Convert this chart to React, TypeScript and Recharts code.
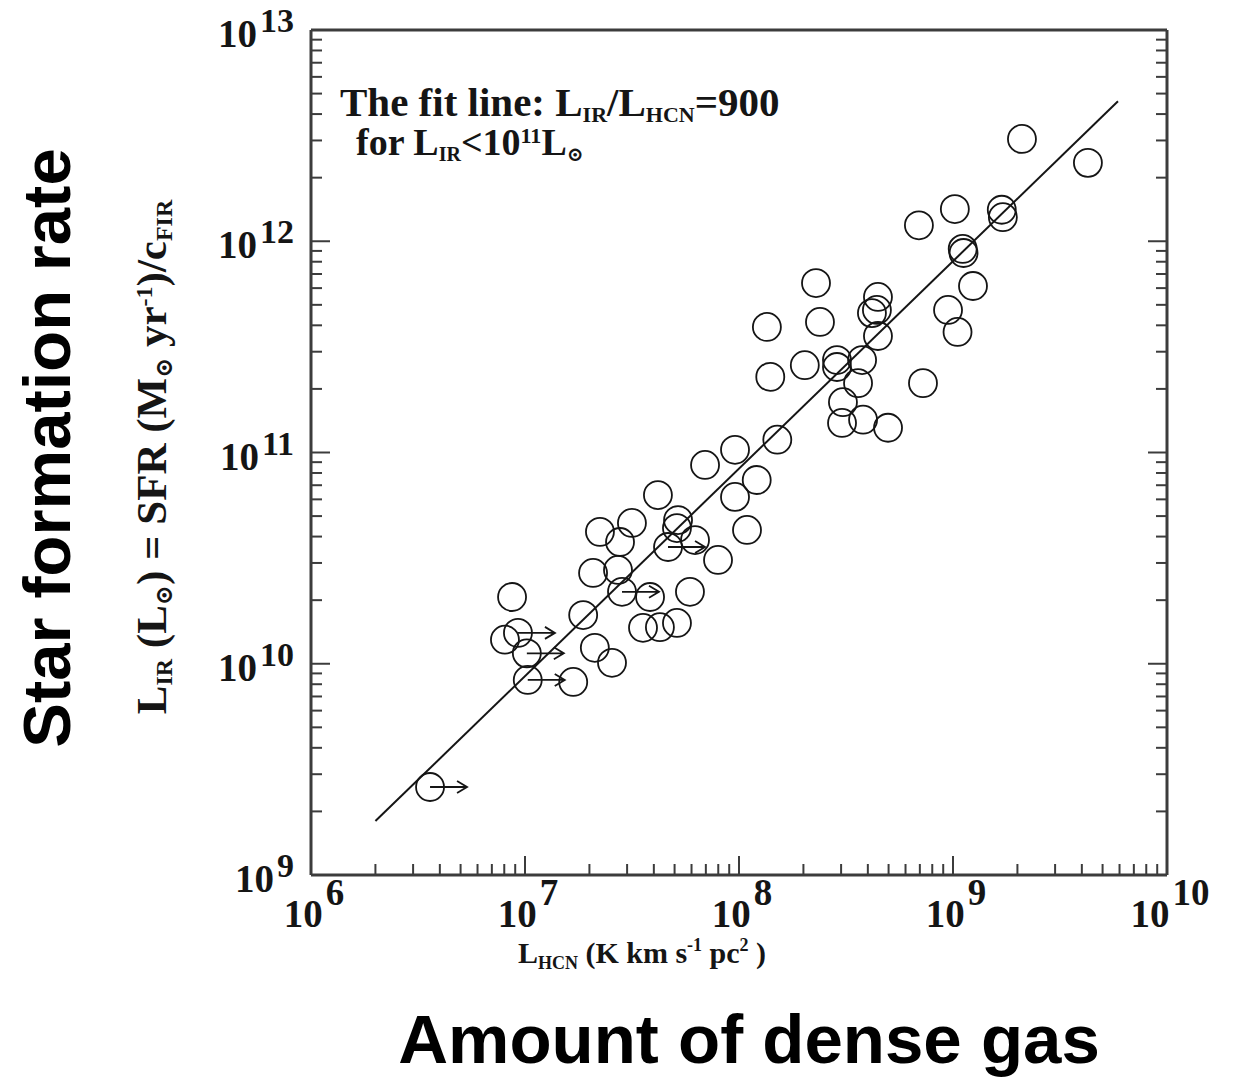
import React from 'react';
import { ScatterChart, Scatter, XAxis, YAxis, ReferenceLine } from 'recharts';

// L_HCN (K km s^-1 pc^2) for each galaxy
const lHcn = [
  2.1e9, 4.27e9, 1.69e9, 1.71e9, 1.02e9, 6.93e8, 1.11e9, 1.12e9, 1.24e9, 9.48e8,
  1.05e9, 2.29e8, 1.35e8, 2.39e8, 4.46e8, 4.41e8, 4.18e8, 4.46e8, 1.4e8, 2.03e8,
  2.87e8, 2.87e8, 3.76e8, 3.6e8, 3.06e8, 3.03e8, 3.8e8, 4.97e8, 7.24e8, 1.51e8,
  9.58e7, 6.94e7, 1.21e8, 9.58e7, 1.09e8, 4.18e7, 3.16e7, 2.24e7, 2.78e7, 5.19e7,
  5.13e7, 4.66e7, 6.23e7, 7.98e7, 2.08e7, 2.72e7, 2.84e7, 3.84e7, 5.9e7, 3.56e7,
  4.27e7, 5.13e7, 8.7e6, 1.87e7, 8.06e6, 9.27e6, 1.02e7, 1.03e7, 1.68e7, 2.12e7,
  2.55e7, 3.6e6,
];

// L_IR (L_sun) for the same galaxies
const lIr = [
  3.05e12, 2.35e12, 1.41e12, 1.3e12, 1.42e12, 1.19e12, 9.2e11, 8.8e11, 6.14e11, 4.73e11,
  3.72e11, 6.34e11, 3.93e11, 4.15e11, 5.45e11, 4.73e11, 4.57e11, 3.56e11, 2.28e11, 2.59e11,
  2.74e11, 2.54e11, 2.74e11, 2.13e11, 1.73e11, 1.38e11, 1.43e11, 1.31e11, 2.13e11, 1.15e11,
  1.03e11, 8.73e10, 7.41e10, 6.16e10, 4.3e10, 6.29e10, 4.64e10, 4.21e10, 3.77e10, 4.79e10,
  4.39e10, 3.57e10, 3.85e10, 3.1e10, 2.69e10, 2.78e10, 2.19e10, 2.07e10, 2.19e10, 1.48e10,
  1.49e10, 1.56e10, 2.07e10, 1.7e10, 1.3e10, 1.4e10, 1.12e10, 8.38e9, 8.2e9, 1.19e10,
  1.01e10, 2.61e9,
];

// points drawn with an arrow (limits on L_HCN)
const limitIdx = [41, 46, 55, 56, 57, 61];

// fit line L_IR/L_HCN ~ 900
const fitHcn = [2e6, 5.9e9];
const fitIr = [1.8e9, 4.6e12];

const xExp = [6, 7, 8, 9, 10];
const yExp = [9, 10, 11, 12, 13];
const minorMult = [2, 3, 4, 5, 6, 7, 8, 9];

const buildTicks = (exps: number[]) => {
  const out: number[] = [];
  exps.forEach((e, i) => {
    out.push(10 ** e);
    if (i < exps.length - 1) minorMult.forEach((m) => out.push(m * 10 ** e));
  });
  return out;
};
const xTicks = buildTicks(xExp);
const yTicks = buildTicks(yExp);

const points = lHcn.map((x, i) => ({ x, y: lIr[i], limit: limitIdx.includes(i) }));

const W = 1233;
const H = 1082;
const FRAME = '#3c3c3c';
const INK = '#151515';
const SERIF = '"Liberation Serif", "DejaVu Serif", serif';
const SANS = '"Liberation Sans", Arial, sans-serif';

const isMajor = (v: number) => {
  const e = Math.round(Math.log10(v));
  return Math.abs(v / 10 ** e - 1) < 1e-6;
};

const BottomTick = ({ x, y, payload }: any) => {
  const v = payload.value;
  const major = isMajor(v);
  return (
    <g>
      <line x1={x} x2={x} y1={y} y2={y - (major ? 19 : 11)} stroke={FRAME} strokeWidth={2} />
      {major && (
        <text x={x + 3} y={y + 52} textAnchor="middle" fontFamily={SERIF} fontWeight="bold" fontSize={39} fill={INK}>
          10<tspan dx={3} dy={-22} fontSize={37}>{Math.round(Math.log10(v))}</tspan>
        </text>
      )}
    </g>
  );
};

const TopTick = ({ x, y, payload }: any) => (
  <line x1={x} x2={x} y1={y} y2={y + (isMajor(payload.value) ? 19 : 11)} stroke={FRAME} strokeWidth={2} />
);

const LeftTick = ({ x, y, payload }: any) => {
  const v = payload.value;
  const major = isMajor(v);
  return (
    <g>
      <line x1={x} x2={x + (major ? 19 : 11)} y1={y} y2={y} stroke={FRAME} strokeWidth={2} />
      {major && (
        <text x={x - 17} y={y + 17} textAnchor="end" fontFamily={SERIF} fontWeight="bold" fontSize={39} fill={INK}>
          10<tspan dx={3} dy={-15} fontSize={34}>{Math.round(Math.log10(v))}</tspan>
        </text>
      )}
    </g>
  );
};

const RightTick = ({ x, y, payload }: any) => (
  <line x1={x} x2={x - (isMajor(payload.value) ? 19 : 11)} y1={y} y2={y} stroke={FRAME} strokeWidth={2} />
);

const Galaxy = ({ cx, cy, payload }: any) => (
  <g>
    <circle cx={cx} cy={cy} r={14} fill="none" stroke={INK} strokeWidth={1.8} />
    {payload.limit && (
      <path
        d={`M${cx} ${cy} H${cx + 37} M${cx + 27} ${cy - 6} L${cx + 37} ${cy} L${cx + 27} ${cy + 6}`}
        fill="none"
        stroke={INK}
        strokeWidth={1.8}
      />
    )}
  </g>
);

export default function App() {
  const axisLine = { stroke: FRAME, strokeWidth: 3 };
  const common = {
    type: 'number' as const,
    scale: 'log' as const,
    allowDataOverflow: true,
    interval: 0 as const,
    tickSize: 0,
    tickMargin: 0,
    tickLine: false,
    axisLine,
  };
  return (
    <div style={{ position: 'absolute', left: 0, top: 0, width: W, height: H, background: '#fff' }}>
      <ScatterChart width={W} height={H} margin={{ top: 29, right: 65, bottom: 206, left: 310 }}>
        <XAxis {...common} dataKey="x" domain={[1e6, 1e10]} ticks={xTicks} height={1} tick={<BottomTick />} />
        <XAxis
          {...common}
          xAxisId="top"
          orientation="top"
          domain={[1e6, 1e10]}
          ticks={xTicks}
          height={1}
          tick={<TopTick />}
        />
        <YAxis {...common} dataKey="y" domain={[1e9, 1e13]} ticks={yTicks} width={1} tick={<LeftTick />} />
        <YAxis
          {...common}
          yAxisId="right"
          orientation="right"
          domain={[1e9, 1e13]}
          ticks={yTicks}
          width={1}
          tick={<RightTick />}
        />
        <ReferenceLine
          segment={[
            { x: fitHcn[0], y: fitIr[0] },
            { x: fitHcn[1], y: fitIr[1] },
          ]}
          stroke={INK}
          strokeWidth={2}
          ifOverflow="visible"
        />
        <Scatter data={points} shape={<Galaxy />} isAnimationActive={false} />
      </ScatterChart>

      <svg width={W} height={H} style={{ position: 'absolute', left: 0, top: 0, pointerEvents: 'none' }}>
        <text x={340} y={116} fontFamily={SERIF} fontWeight="bold" fontSize={41} fill={INK}>
          The fit line: L<tspan dy={6} fontSize={22}>IR</tspan>
          <tspan dy={-6}>/L</tspan>
          <tspan dy={6} fontSize={22}>HCN</tspan>
          <tspan dy={-6}>=900</tspan>
        </text>
        <text x={356} y={155} fontFamily={SERIF} fontWeight="bold" fontSize={38} fill={INK}>
          for L<tspan dy={6} fontSize={20}>IR</tspan>
          <tspan dy={-6}>{'<10'}</tspan>
          <tspan dy={-12} fontSize={22}>11</tspan>
          <tspan dy={12}>L</tspan>
          <tspan dy={6} fontSize={20}>⊙</tspan>
        </text>

        <text x={642} y={963} textAnchor="middle" fontFamily={SERIF} fontWeight="bold" fontSize={30} fill={INK}>
          L<tspan dy={6} fontSize={18}>HCN</tspan>
          <tspan dy={-6}> (K km s</tspan>
          <tspan dy={-12} fontSize={18}>-1</tspan>
          <tspan dy={12}> pc</tspan>
          <tspan dy={-12} fontSize={18}>2</tspan>
          <tspan dy={12}> )</tspan>
        </text>

        <text
          transform="translate(166 457) rotate(-90)"
          textAnchor="middle"
          fontFamily={SERIF}
          fontWeight="bold"
          fontSize={43}
          fill={INK}
        >
          L<tspan dy={6} fontSize={24}>IR</tspan>
          <tspan dy={-6}> (L</tspan>
          <tspan dy={6} fontSize={24}>⊙</tspan>
          <tspan dy={-6}>) = SFR (M</tspan>
          <tspan dy={6} fontSize={24}>⊙</tspan>
          <tspan dy={-6}> yr</tspan>
          <tspan dy={-14} fontSize={24}>-1</tspan>
          <tspan dy={14}>)/c</tspan>
          <tspan dy={6} fontSize={24}>FIR</tspan>
        </text>

        <text
          transform="translate(70 448) rotate(-90)"
          textAnchor="middle"
          fontFamily={SANS}
          fontWeight="bold"
          fontSize={67}
          fill="#000"
        >
          Star formation rate
        </text>
        <text x={749} y={1063} textAnchor="middle" fontFamily={SANS} fontWeight="bold" fontSize={69} fill="#000">
          Amount of dense gas
        </text>
      </svg>
    </div>
  );
}
